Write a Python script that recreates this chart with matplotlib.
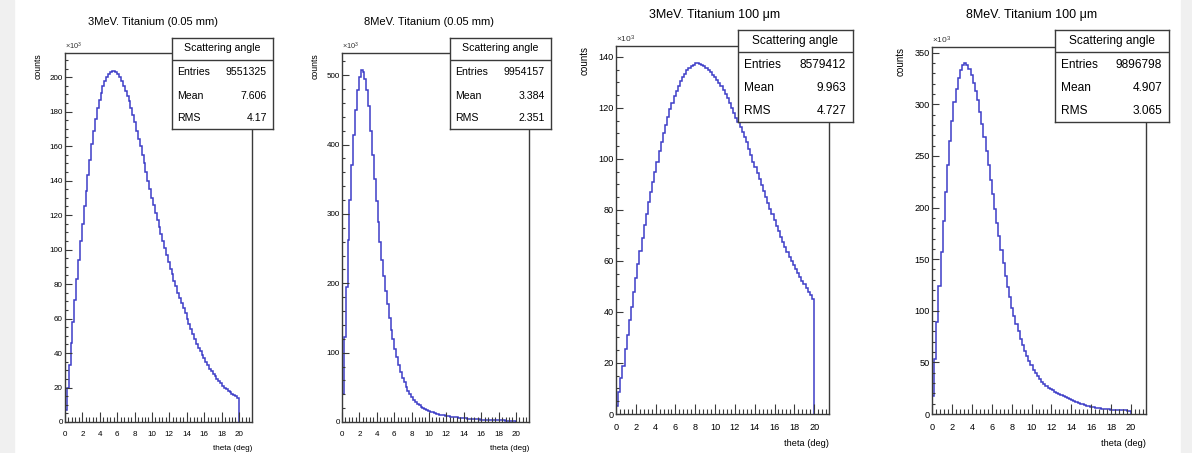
import numpy as np
import matplotlib.pyplot as plt
from matplotlib.patches import Rectangle
from matplotlib.ticker import MultipleLocator

plt.rcParams['font.family'] = ['Liberation Sans', 'DejaVu Sans']
plt.rcParams['mathtext.default'] = 'regular'

# bin contents in units of 10^3 counts, bins of 0.215 deg starting at 0 (empty above 20 deg)
counts_3mev_005 = [7, 20, 33, 46, 58, 71, 83, 94, 105, 115,
                   125, 134, 143, 152, 161, 169, 176, 182, 187, 191,
                   195, 198, 200, 202, 203, 203.5, 203.5, 203, 202, 200,
                   198, 195, 192, 189, 186, 182, 178, 174, 169, 164,
                   160, 155, 150, 145, 140, 135, 130, 126, 121, 117,
                   113, 109, 105, 101, 97, 93, 89, 86, 82, 79,
                   75, 72, 69, 66, 63, 60, 57, 54, 51, 48,
                   45.5, 43, 41, 39, 37, 35, 33, 31, 29.5, 28,
                   26.5, 25, 23.5, 22.5, 21, 20, 19, 18, 17.2, 16.4,
                   15.6, 14.8, 14]
counts_8mev_005 = [40, 122, 195, 262, 320, 370, 414, 450, 478, 497,
                   507, 505, 494, 478, 455, 420, 385, 350, 318, 288,
                   260, 234, 210, 189, 170, 150, 133, 119, 105, 93,
                   82, 72, 64, 57, 51, 45, 40, 36, 32, 29,
                   26, 24, 22, 20, 18.5, 17, 16, 15, 14, 13,
                   12, 11, 10.5, 10, 9.5, 9, 8.5, 8, 7.6, 7.2,
                   6.9, 6.6, 6.3, 6.0, 5.7, 5.4, 5.1, 4.9, 4.7, 4.5,
                   4.3, 4.1, 3.9, 3.7, 3.5, 3.4, 3.3, 3.1, 3.0, 2.9,
                   2.8, 2.7, 2.6, 2.5, 2.4, 2.3, 2.2, 2.1, 2.0, 2.0,
                   1.9, 1.8, 1.8]
counts_3mev_100 = [3, 8.5, 14, 19, 25.5, 31, 37, 42, 48, 53.5,
                   59, 64, 69, 74, 78.5, 83, 87, 91, 95, 99,
                   103, 106.5, 110, 113.5, 116.5, 119.5, 122, 124.5, 126.5, 128.5,
                   130.5, 132, 133.5, 134.7, 135.7, 136.5, 137, 137.5, 137.5, 137.3,
                   137, 136.5, 135.8, 135, 134, 133, 132, 131, 129.8, 128.5,
                   127, 125.5, 124, 122, 120, 118, 116, 114.5, 112.5, 110.5,
                   108.5, 106.5, 104, 101.5, 99, 96.8, 94.5, 92, 89.8, 87.5,
                   85, 82.8, 80.5, 78.3, 76, 73.8, 71.6, 69.5, 67.4, 65.3,
                   63.4, 61.7, 60, 58.4, 56.8, 55.2, 53.7, 52.2, 50.8, 49.4,
                   48, 46.6, 45]
counts_8mev_100 = [17, 53, 89, 124, 157, 187, 215, 241, 264, 284,
                   302, 315, 325, 333, 338, 340, 338, 334, 328, 321,
                   313, 304, 293, 281, 268, 255, 241, 227, 213, 199,
                   185, 172, 159, 146, 134, 123, 113, 103, 95, 87,
                   80, 73, 67, 61, 56, 51, 47, 43, 39.5, 36.5,
                   33.5, 31, 29, 27, 25.5, 24, 22.8, 21.6, 20.5, 19.4,
                   18.3, 17.2, 16.1, 15.1, 14.2, 13.3, 12.4, 11.5, 10.7, 10.0,
                   9.3, 8.7, 8.1, 7.5, 7.0, 6.6, 6.2, 5.8, 5.5, 5.2,
                   4.9, 4.7, 4.5, 4.3, 4.0, 3.9, 3.8, 3.7, 3.6, 3.5,
                   3.4, 3.3, 3.2]

titles = ['3MeV. Titanium (0.05 mm)', '8MeV. Titanium (0.05 mm)',
          '3MeV. Titanium 100 \u03bcm', '8MeV. Titanium 100 \u03bcm']
entries = ['9551325', '9954157', '8579412', '9896798']
means = ['7.606', '3.384', '9.963', '4.907']
rms_vals = ['4.17', '2.351', '4.727', '3.065']
all_counts = [counts_3mev_005, counts_8mev_005, counts_3mev_100, counts_8mev_100]
bin_width = 0.215
x_max = 21.5

W, H = 1192, 453
fig = plt.figure(figsize=(W / 100, H / 100), dpi=100)


def frac(x0, y0, x1, y1):
    # pixel box (top-left origin) -> figure rect
    return [x0 / W, 1 - y1 / H, (x1 - x0) / W, (y1 - y0) / H]


# layout of each pad in pixels: axes box, stat box, y range, ticks, font scale
pads = [
    dict(ax=(65, 53, 252, 422), box=(172, 38, 273, 129), ymax=214, ymaj=20, ymin=5,
         title_xy=(153, 22), ylab_x=38.5, fs=1.0),
    dict(ax=(342, 53, 529, 422), box=(450, 38, 551, 129), ymax=532, ymaj=100, ymin=20,
         title_xy=(429, 22), ylab_x=315, fs=1.0),
    dict(ax=(616, 46, 829, 414), box=(738, 30, 853, 122), ymax=144.3, ymaj=20, ymin=5,
         title_xy=(715, 15), ylab_x=584.5, fs=1.13),
    dict(ax=(932, 47, 1146, 414), box=(1055, 30, 1169, 122), ymax=355.5, ymaj=50, ymin=10,
         title_xy=(1032, 15), ylab_x=901, fs=1.13),
]

frame_col = '#3a3a3a'
line_col = '#3d3dc8'

fig.add_artist(Rectangle((0, 0), 14 / W, 1, transform=fig.transFigure,
                         color='#f0f0f0', zorder=0))
fig.add_artist(Rectangle((1181 / W, 0), 11 / W, 1, transform=fig.transFigure,
                         color='#f0f0f0', zorder=0))

for i, p in enumerate(pads):
    s = p['fs']
    x0, y0, x1, y1 = p['ax']
    ax = fig.add_axes(frac(*p['ax']))
    vals = all_counts[i]
    edges = bin_width * np.arange(len(vals) + 1)
    ax.stairs(vals, edges, baseline=0, color=line_col, lw=1.1)
    ax.set_xlim(0, x_max)
    ax.set_ylim(0, p['ymax'])
    ax.xaxis.set_major_locator(MultipleLocator(2))
    ax.xaxis.set_minor_locator(MultipleLocator(0.4))
    ax.yaxis.set_major_locator(MultipleLocator(p['ymaj']))
    ax.yaxis.set_minor_locator(MultipleLocator(p['ymin']))
    ax.tick_params(axis='both', which='both', direction='in', colors=frame_col,
                   width=0.8, top=False, right=False)
    ax.tick_params(axis='x', which='major', length=7, pad=6.5, labelsize=5.8 * s)
    ax.tick_params(axis='x', which='minor', length=3.5)
    ax.tick_params(axis='y', which='major', length=4.8, pad=1.5, labelsize=5.8 * s)
    ax.tick_params(axis='y', which='minor', length=2.4)
    for lab in ax.get_xticklabels() + ax.get_yticklabels():
        lab.set_color('black')
    for sp in ax.spines.values():
        sp.set_color(frame_col)
        sp.set_linewidth(1.0)

    # texts around the pad
    tx, ty = p['title_xy']
    fig.text(tx / W, 1 - ty / H, titles[i], ha='center', va='center', fontsize=8 * s)
    fig.text(p['ylab_x'] / W, 1 - y0 / H, 'counts', rotation=90, ha='center',
             va='top', fontsize=6.3 * s)
    fig.text(x0 / W, 1 - (y0 - 1) / H, '\u00d710$^3$', ha='left', va='bottom',
             fontsize=5.3 * s, color='#333333')
    fig.text(x1 / W, 1 - (y1 + 26 * s) / H, 'theta (deg)', ha='right', va='center',
             fontsize=5.9 * s)

    # statistics box
    sb = fig.add_axes(frac(*p['box']))
    sb.set_xlim(0, 1)
    sb.set_ylim(0, 1)
    sb.set_xticks([])
    sb.set_yticks([])
    sb.set_facecolor('white')
    for sp in sb.spines.values():
        sp.set_color(frame_col)
        sp.set_linewidth(1.0)
    sb.axhline(0.76, color=frame_col, lw=1.0)
    sb.text(0.5, 0.885, 'Scattering angle', ha='center', va='center', fontsize=7.6 * s)
    rows = [('Entries', entries[i]), ('Mean', means[i]), ('RMS', rms_vals[i])]
    for (name, val), yy in zip(rows, [0.625, 0.365, 0.12]):
        sb.text(0.055, yy, name, ha='left', va='center', fontsize=7.6 * s)
        sb.text(0.94, yy, val, ha='right', va='center', fontsize=7.6 * s)

fig.savefig('out.png', dpi=100)
